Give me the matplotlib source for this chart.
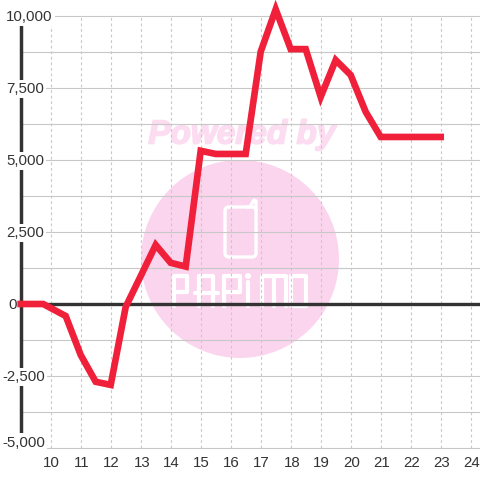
import matplotlib
matplotlib.use('Agg')
import matplotlib.pyplot as plt
import matplotlib.patheffects as pe
from matplotlib.patches import Circle, FancyBboxPatch
from matplotlib.transforms import ScaledTranslation

plt.rcParams['font.family'] = ['Liberation Sans', 'DejaVu Sans']

hours = [9, 9.75, 10.5, 11, 11.5, 12, 12.5, 13, 13.5, 14, 14.5, 15, 15.5, 16.5,
         17, 17.5, 18, 18.5, 19, 19.5, 20, 20.5, 21, 23]
values = [0, 0, -417, -1770, -2700, -2810, -100, 970, 2050, 1430, 1300, 5320, 5210, 5210,
          8760, 10230, 8850, 8850, 7190, 8470, 7950, 6670, 5800, 5800]
x_ticks = list(range(10, 25))
y_ticks = [-5000, -2500, 0, 2500, 5000, 7500, 10000]
y_minor = [-3750, -1250, 1250, 3750, 6250, 8750]
y_labels = ['-5,000', '-2,500', '0', '2,500', '5,000', '7,500', '10,000']

RED = '#f01f3a'
DARK = '#333333'
GRID = '#c8c8c8'
PINK = '#fbd5ee'

fig = plt.figure(figsize=(4.8, 4.8), dpi=100, facecolor='white')

# watermark goes under the chart, in pixel coordinates
bg = fig.add_axes([0, 0, 1, 1], zorder=0)
bg.set_xlim(0, 480)
bg.set_ylim(480, 0)
bg.axis('off')
bg.add_patch(Circle((240, 259), 99, color=PINK, lw=0))
bg.text(242, 135, 'Powered by', color='#fcdcf0', fontsize=24, fontweight='bold',
        fontstyle='italic', ha='center', va='center', family='Liberation Sans',
        path_effects=[pe.withStroke(linewidth=1.2, foreground='#fcdcf0')])
bg.add_patch(FancyBboxPatch((225, 207), 31, 50, boxstyle='round,pad=0,rounding_size=4',
                            fc='none', ec='white', lw=2.4))
bg.plot([247, 250, 254, 256, 256], [207, 207, 200, 201, 210], color='white', lw=2.4,
        solid_capstyle='round')
logo = [
    ([174, 174, 187, 187, 174], [306, 276, 276, 292, 292]),
    ([199, 199, 213, 213], [306, 276, 276, 306]),
    ([195, 218], [293, 293]),
    ([224, 224, 240, 240, 224], [306, 276, 276, 292, 292]),
    ([248, 248], [282, 306]),
    ([262, 262, 286, 286], [306, 276, 276, 306]),
    ([274, 274], [276, 306]),
    ([291, 291, 306, 306, 291], [276, 306, 306, 276, 276]),
]
for xs, ys in logo:
    bg.plot(xs, ys, color='white', lw=3, solid_capstyle='round')
bg.add_patch(Circle((248, 276), 3, color='white', lw=0))

ax = fig.add_axes([20.7 / 480, 32 / 480, 459.3 / 480, 432 / 480], zorder=1)
ax.patch.set_alpha(0)
ax.set_xlim(9, 24.31)
ax.set_ylim(-5000, 10000)
for side in ['top', 'right', 'bottom']:
    ax.spines[side].set_visible(False)
ax.spines['left'].set_color(DARK)
ax.spines['left'].set_linewidth(2.5)
ax.tick_params(length=0, labelleft=False)
ax.set_yticks([])
ax.set_xticks(x_ticks)
ax.set_xticklabels(x_ticks, fontsize=10.8, color=DARK)
ax.tick_params(axis='x', pad=6)
# nudge x labels one pixel right
nudge = ScaledTranslation(1 / 100, 0, fig.dpi_scale_trans)
for lab in ax.get_xticklabels():
    lab.set_transform(lab.get_transform() + nudge)

for t in x_ticks:
    ax.axvline(t, color=GRID, lw=0.8, ls=(0, (2.5, 2.5)), zorder=1)
for v in y_ticks + y_minor:
    ax.axhline(v, color=GRID, lw=0.8, zorder=1, clip_on=False)
ax.axhline(0, color=DARK, lw=2.4, zorder=2)

# y labels sit on white boxes, cutting the axis and the grid
trans = ax.get_yaxis_transform()
for v, lab in zip(y_ticks, y_labels):
    if v < 0:
        x_pos = -18.5 / 459.3
    elif v == 0:
        x_pos = -12.7 / 459.3
    else:
        x_pos = -14.7 / 459.3
    # the bottom label is pushed up above the last grid line
    label_y = -4810 if v == -5000 else v - 30
    ax.text(x_pos, label_y, lab, transform=trans, ha='left', va='center', fontsize=10.8,
            color=DARK, zorder=3, clip_on=False,
            bbox=dict(fc='white', ec='none', pad=1.6))

ax.plot(hours, values, color=RED, lw=4.8, zorder=4, clip_on=False,
        solid_joinstyle='miter', solid_capstyle='projecting')

fig.savefig('out.png', dpi=100)
